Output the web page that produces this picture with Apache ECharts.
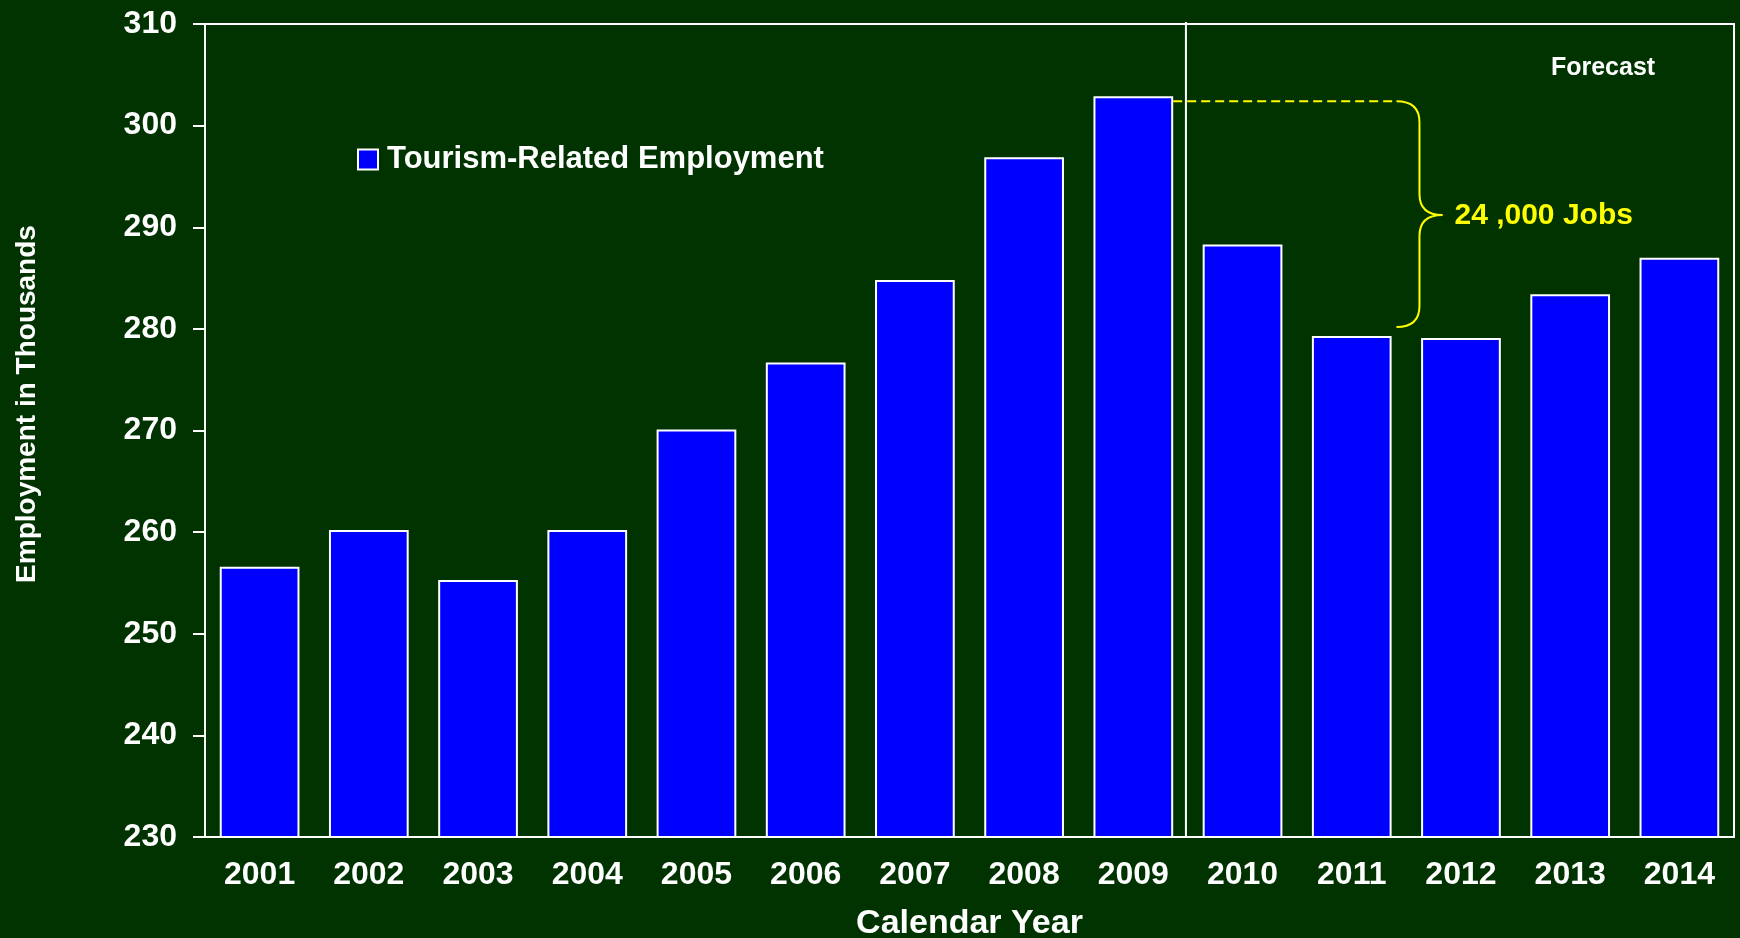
<!DOCTYPE html>
<html>
<head>
<meta charset="utf-8">
<title>Tourism-Related Employment</title>
<script src="https://cdn.jsdelivr.net/npm/echarts@6/dist/echarts.min.js"></script>
<style>
  html, body { margin: 0; padding: 0; background: #003300; }
  #chart { width: 1740px; height: 938px; }
</style>
</head>
<body>
<div id="chart"></div>
<script>
// Calendar years on the category axis
const years = ['2001', '2002', '2003', '2004', '2005', '2006', '2007',
               '2008', '2009', '2010', '2011', '2012', '2013', '2014'];
// Tourism-related employment, thousands of jobs
const employment = [256.6, 260.2, 255.3, 260.2, 270.1, 276.7, 284.8,
                    296.9, 302.9, 288.3, 279.3, 279.1, 283.4, 287.0];
// Value axis range and step
const yRange = { min: 230, max: 310, step: 10 };
// First forecast year, and the peak/trough pair bracketed by the job-loss note
const forecastStart = '2010';
const peakYear = '2009';
const troughYear = '2011';
const seriesName = 'Tourism-Related Employment';
const dropLabel = '24 ,000 Jobs';
const forecastLabel = 'Forecast';

const BG = '#003300';
const WHITE = '#ffffff';
const YELLOW = '#ffff00';
const FONT = '"Liberation Sans", Arial, sans-serif';

const chart = echarts.init(document.getElementById('chart'), null, { renderer: 'canvas' });

chart.setOption({
  backgroundColor: BG,
  animation: false,
  grid: {
    left: 205, right: 6, top: 24, bottom: 101,
    outerBoundsMode: 'none',
    show: true, borderColor: WHITE, borderWidth: 2, backgroundColor: 'transparent'
  },
  legend: {
    data: [seriesName],
    left: 352, top: 139,
    icon: 'rect', itemWidth: 20, itemHeight: 20,
    textStyle: { color: WHITE, fontFamily: FONT, fontWeight: 'bold', fontSize: 31, padding: [0, 0, 0, 4] }
  },
  xAxis: {
    type: 'category',
    data: years,
    name: 'Calendar Year',
    nameLocation: 'middle',
    nameGap: 70,
    nameTextStyle: { color: WHITE, fontFamily: FONT, fontWeight: 'bold', fontSize: 34 },
    axisLine: { lineStyle: { color: WHITE, width: 2 } },
    axisTick: { show: false },
    axisLabel: { color: WHITE, fontFamily: FONT, fontWeight: 'bold', fontSize: 32, margin: 22, interval: 0 },
    splitLine: { show: false }
  },
  yAxis: {
    type: 'value',
    min: yRange.min, max: yRange.max, interval: yRange.step,
    name: 'Employment in Thousands',
    nameLocation: 'middle',
    nameRotate: 90,
    nameGap: 164,
    nameTextStyle: { color: WHITE, fontFamily: FONT, fontWeight: 'bold', fontSize: 28, padding: [0, 0, 0, 53] },
    axisLine: { show: true, lineStyle: { color: WHITE, width: 2 } },
    axisTick: { show: true, inside: false, length: 12, lineStyle: { color: WHITE, width: 2 } },
    axisLabel: { color: WHITE, fontFamily: FONT, fontWeight: 'bold', fontSize: 32, margin: 28 },
    splitLine: { show: false }
  },
  series: [{
    name: seriesName,
    type: 'bar',
    data: employment,
    barCategoryGap: '27%',
    itemStyle: { color: '#0000ff', borderColor: WHITE, borderWidth: 2 }
  }]
});

// Annotations placed from the axes' own scales
function px(cat, val) {
  return chart.convertToPixel({ xAxisIndex: 0, yAxisIndex: 0 }, [cat, val]);
}
const iF = years.indexOf(forecastStart);
const band = px(years[1], yRange.min)[0] - px(years[0], yRange.min)[0];
const gridTop = px(years[0], yRange.max)[1];
const gridBottom = px(years[0], yRange.min)[1];
const splitX = (px(years[iF - 1], yRange.min)[0] + px(years[iF], yRange.min)[0]) / 2 - 2;

const peak = px(peakYear, employment[years.indexOf(peakYear)]);
const trough = px(troughYear, employment[years.indexOf(troughYear)]);
const barHalf = band * 0.73 / 2;

// Curly brace spanning the drop from the peak to the trough
const yT = peak[1] + 5;
const yB = trough[1] - 9;
const yM = (yT + yB) / 2 + 1;
const xs = trough[0] + band * 0.62;
const rx = 23, ry = 21;
const braceStyle = { stroke: YELLOW, lineWidth: 2, fill: null };
function curve(x1, y1, cx, cy, x2, y2) {
  return { type: 'bezierCurve', z: 10, shape: { x1: x1, y1: y1, x2: x2, y2: y2, cpx1: cx, cpy1: cy }, style: braceStyle };
}
function seg(x1, y1, x2, y2) {
  return { type: 'line', z: 10, shape: { x1: x1, y1: y1, x2: x2, y2: y2 }, style: braceStyle };
}
const brace = [
  curve(xs - rx, yT, xs, yT, xs, yT + ry),
  seg(xs, yT + ry, xs, yM - ry),
  curve(xs, yM - ry, xs, yM, xs + rx, yM),
  curve(xs + rx, yM, xs, yM, xs, yM + ry),
  seg(xs, yM + ry, xs, yB - ry),
  curve(xs, yB - ry, xs, yB, xs - rx, yB)
];

chart.setOption({
  graphic: [
    {
      type: 'line', z: 10,
      shape: { x1: splitX, y1: gridTop - 2, x2: splitX, y2: gridBottom },
      style: { stroke: WHITE, lineWidth: 2 }
    },
    {
      type: 'line', z: 10,
      shape: { x1: peak[0] + barHalf, y1: yT, x2: xs - rx, y2: yT },
      style: { stroke: YELLOW, lineWidth: 2, lineDash: [9, 5] }
    }
  ].concat(brace, [
    {
      type: 'text', z: 10,
      x: xs + rx + 12, y: yM + 1,
      style: {
        text: dropLabel, fill: YELLOW, font: 'bold 30px ' + FONT,
        textAlign: 'left', textVerticalAlign: 'middle'
      }
    },
    {
      type: 'text', z: 10,
      x: 1603, y: 68,
      style: {
        text: forecastLabel, fill: WHITE, font: 'bold 25px ' + FONT,
        textAlign: 'center', textVerticalAlign: 'middle'
      }
    }
  ])
});
</script>
</body>
</html>
